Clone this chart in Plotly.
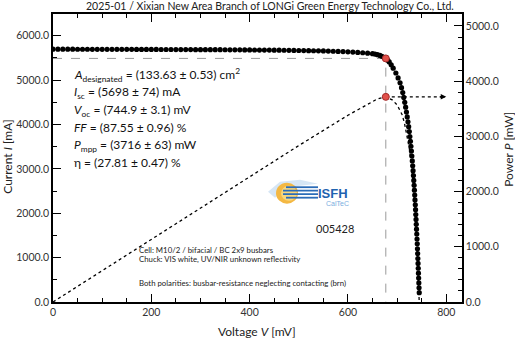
import plotly.graph_objects as go

# ---------------- data ----------------
voltage_mV = [0, 10, 20, 30, 40, 50, 60, 70, 80, 90, 100,
              110, 120, 130, 140, 150, 160, 170, 180, 190, 200,
              210, 220, 230, 240, 250, 260, 270, 280, 290, 300,
              310, 320, 330, 340, 350, 360, 370, 380, 390, 400,
              410, 420, 430, 440, 450, 460, 470, 480, 490, 500,
              510, 520, 530, 540, 550, 560, 570, 580, 590, 600,
              610, 620, 630, 640, 650,
              655, 660, 665, 669, 673, 677, 681, 684, 688,
              692, 697.5, 702, 706, 709, 711.5, 713.5, 715.5, 717.3, 719,
              720.6, 722.1, 723.5, 724.8, 726, 727.1, 728.1, 729.1, 730, 730.9,
              731.7, 732.5, 733.2, 733.9, 734.6, 735.2, 735.8, 736.4, 737.0, 737.5,
              738.0, 738.5, 739.0, 739.5, 740.0, 740.5, 741.0, 741.4, 741.8, 742.2,
              742.6, 743.0, 743.4, 743.8, 744.2, 744.6, 745.0]
current_mA = [5698, 5698, 5697, 5697, 5697, 5696, 5696, 5696, 5695, 5695, 5695,
              5694, 5694, 5694, 5693, 5693, 5693, 5692, 5692, 5692, 5691,
              5691, 5690, 5690, 5690, 5689, 5689, 5688, 5688, 5687, 5687,
              5686, 5686, 5685, 5685, 5684, 5683, 5683, 5682, 5681, 5680,
              5679, 5678, 5677, 5676, 5675, 5674, 5673, 5671, 5670, 5668,
              5666, 5664, 5662, 5660, 5657, 5654, 5651, 5647, 5643, 5638,
              5632, 5625, 5617, 5607, 5595,
              5588, 5574, 5556, 5536, 5514, 5489, 5450, 5410, 5345,
              5270, 5160, 5050, 4940, 4830, 4720, 4610, 4500, 4390, 4280,
              4170, 4060, 3950, 3840, 3730, 3620, 3510, 3400, 3290, 3180,
              3070, 2960, 2850, 2740, 2630, 2520, 2410, 2300, 2190, 2080,
              1970, 1860, 1750, 1640, 1530, 1420, 1310, 1200, 1090, 980,
              870, 760, 650, 540, 430, 320, 210]

power_voltage_mV = [0, 100, 200, 300, 400, 500, 600, 640, 660, 677, 690, 700,
                    710, 715, 720, 725, 730, 735, 740, 745]
power_mW = [0, 569.5, 1138.2, 1706.1, 2272.0, 2834.0, 3382.8, 3588, 3679, 3716, 3662, 3570,
            3397, 3239, 3031, 2773, 2402, 1878, 1132, 0]

V_mpp = 677.0
I_mpp = 5489.0
P_mpp = 3716.0
arrow_end_V = 800

x_ticks = [0, 200, 400, 600, 800]
y1_ticks = [0, 1000, 2000, 3000, 4000, 5000, 6000]
y2_ticks = [0, 1000, 2000, 3000, 4000, 5000]

title_text = "2025-01 / Xixian New Area Branch of LONGi Green Energy Technology Co., Ltd."
result_lines = [
    "<i>A</i><sub>designated</sub> = (133.63 ± 0.53) cm<sup>2</sup>",
    "<i>I</i><sub>sc</sub> = (5698 ± 74) mA",
    "<i>V</i><sub>oc</sub> = (744.9 ± 3.1) mV",
    "<i>FF</i> = (87.55 ± 0.96) %",
    "<i>P</i><sub>mpp</sub> = (3716 ± 63) mW",
    "η = (27.81 ± 0.47) %",
]
info_lines = [
    "Cell: M10/2 / bifacial / BC 2x9 busbars",
    "Chuck: VIS white, UV/NIR unknown reflectivity",
    "Both polarities: busbar-resistance neglecting contacting (brn)",
]
sample_id = "005428"

# ---------------- layout helpers ----------------
W, H = 515, 342
L, R, T, B = 53, 462, 14, 302.5
FONT = "Lato"


def px(x):
    return (x - L) / (R - L)


def py(y):
    return (B - y) / (B - T)


fig = go.Figure()

# dashed guide lines to MPP
fig.add_trace(go.Scatter(x=[0, V_mpp, V_mpp], y=[I_mpp, I_mpp, 0], mode="lines",
                         line=dict(color="#9a9a9a", width=1, dash="dash"),
                         hoverinfo="skip", showlegend=False))

# power curve
fig.add_trace(go.Scatter(x=power_voltage_mV, y=power_mW, yaxis="y2", mode="lines",
                         line=dict(color="black", width=1.3, dash="dot"),
                         showlegend=False))
# arrow line to power axis
fig.add_trace(go.Scatter(x=[V_mpp, arrow_end_V - 3], y=[P_mpp, P_mpp], yaxis="y2", mode="lines",
                         line=dict(color="black", width=1.1, dash="dot"),
                         showlegend=False))

# IV curve
fig.add_trace(go.Scatter(x=voltage_mV, y=current_mA, mode="markers",
                         marker=dict(color="black", size=5.2),
                         showlegend=False))

# MPP markers
fig.add_trace(go.Scatter(x=[V_mpp], y=[I_mpp], mode="markers",
                         marker=dict(color="#e0504a", size=7, line=dict(color="#a52a2a", width=1)),
                         showlegend=False))
fig.add_trace(go.Scatter(x=[V_mpp], y=[P_mpp], yaxis="y2", mode="markers",
                         marker=dict(color="#e0504a", size=7, line=dict(color="#a52a2a", width=1)),
                         showlegend=False))

annotations = []
# arrow head
annotations.append(dict(x=arrow_end_V, y=P_mpp, xref="x", yref="y2", ax=-8, ay=0,
                        text="", showarrow=True, arrowhead=2, arrowsize=1, arrowwidth=1.1,
                        arrowcolor="black", standoff=0))

# title
annotations.append(dict(x=px(270), y=py(5.5), xref="paper", yref="paper", text=title_text,
                        showarrow=False, xanchor="center", yanchor="middle",
                        font=dict(family=FONT, size=10.5, color="#222")))

# results block
ys = [75, 92.7, 110.5, 128, 145.5, 163]
for line, yy in zip(result_lines, ys):
    annotations.append(dict(x=px(72), y=py(yy), xref="paper", yref="paper", text=line,
                            showarrow=False, xanchor="left", yanchor="middle",
                            font=dict(family=FONT, size=12, color="#111")))

# info lines
for line, yy in zip(info_lines, [250, 259.5, 283]):
    annotations.append(dict(x=px(137), y=py(yy), xref="paper", yref="paper", text=line,
                            showarrow=False, xanchor="left", yanchor="middle",
                            font=dict(family=FONT, size=7.8, color="#222")))

# sample id
annotations.append(dict(x=px(334.5), y=py(229), xref="paper", yref="paper", text=sample_id,
                        showarrow=False, xanchor="center", yanchor="middle",
                        font=dict(family=FONT, size=11, color="#222")))

# logo text
annotations.append(dict(x=px(332.5), y=py(194), xref="paper", yref="paper", text="<b>ISFH</b>",
                        showarrow=False, xanchor="center", yanchor="middle",
                        font=dict(family="Liberation Sans", size=13, color="#1f63b0")))
annotations.append(dict(x=px(337.5), y=py(203.5), xref="paper", yref="paper", text="CalTeC",
                        showarrow=False, xanchor="center", yanchor="middle",
                        font=dict(family="Liberation Sans", size=7, color="#79aee0")))

# axis titles
annotations.append(dict(x=px(256.5), y=py(332), xref="paper", yref="paper",
                        text="Voltage <i>V</i> [mV]", showarrow=False,
                        xanchor="center", yanchor="middle",
                        font=dict(family=FONT, size=12, color="#222")))
annotations.append(dict(x=px(8), y=py(157), xref="paper", yref="paper",
                        text="Current <i>I</i> [mA]", showarrow=False, textangle=-90,
                        xanchor="center", yanchor="middle",
                        font=dict(family=FONT, size=12, color="#222")))
annotations.append(dict(x=px(509), y=py(150), xref="paper", yref="paper",
                        text="Power <i>P</i> [mW]", showarrow=False, textangle=-90,
                        xanchor="center", yanchor="middle",
                        font=dict(family=FONT, size=12, color="#222")))

# logo shapes
shapes = []


def path(points):
    s = "M " + " L ".join(f"{px(a):.4f},{py(b):.4f}" for a, b in points)
    return s


shapes.append(dict(type="path", xref="paper", yref="paper",
                   path=path([(268, 192), (280, 182), (300, 180), (318, 184), (300, 186),
                              (285, 190), (275, 198), (268, 192)]),
                   fillcolor="#d6e6f5", line=dict(width=0), layer="below"))
shapes.append(dict(type="circle", xref="paper", yref="paper",
                   x0=px(276), x1=px(298), y0=py(204), y1=py(183),
                   fillcolor="#f4b843", line=dict(width=0)))
shapes.append(dict(type="circle", xref="paper", yref="paper",
                   x0=px(281), x1=px(297), y0=py(201), y1=py(186),
                   fillcolor="#f9d77e", line=dict(width=0)))
for yy, x0 in zip([187.5, 191, 194.5, 198], [286, 283, 283, 286]):
    shapes.append(dict(type="line", xref="paper", yref="paper",
                       x0=px(x0), x1=px(318), y0=py(yy), y1=py(yy),
                       line=dict(color="#2b6cb8", width=1.8)))

axis_common = dict(showgrid=False, zeroline=False, showline=True, linecolor="black",
                   linewidth=1.5, ticks="inside", tickcolor="black", tickwidth=1.2,
                   tickfont=dict(family=FONT, size=10.5, color="#333"))

fig.update_layout(
    width=W, height=H,
    margin=dict(l=L, r=W - R, t=T, b=H - B),
    paper_bgcolor="white", plot_bgcolor="white",
    showlegend=False,
    annotations=annotations,
    shapes=shapes,
    xaxis=dict(range=[0, 832], tickvals=x_ticks, ticklen=8, mirror="ticks",
               minor=dict(dtick=50, tick0=0, ticklen=4, ticks="inside", tickcolor="black", tickwidth=1),
               **axis_common),
    yaxis=dict(range=[0, 6490], tickvals=y1_ticks, tickformat=".1f", ticklen=8,
               minor=dict(dtick=500, tick0=0, ticklen=4, ticks="inside", tickcolor="black", tickwidth=1),
               **axis_common),
    yaxis2=dict(range=[0, 5217], tickvals=y2_ticks, tickformat=".1f", ticklen=8,
                overlaying="y", side="right",
                minor=dict(dtick=200, tick0=0, ticklen=4, ticks="inside", tickcolor="black", tickwidth=1),
                **axis_common),
)

fig.write_html("out.html")
